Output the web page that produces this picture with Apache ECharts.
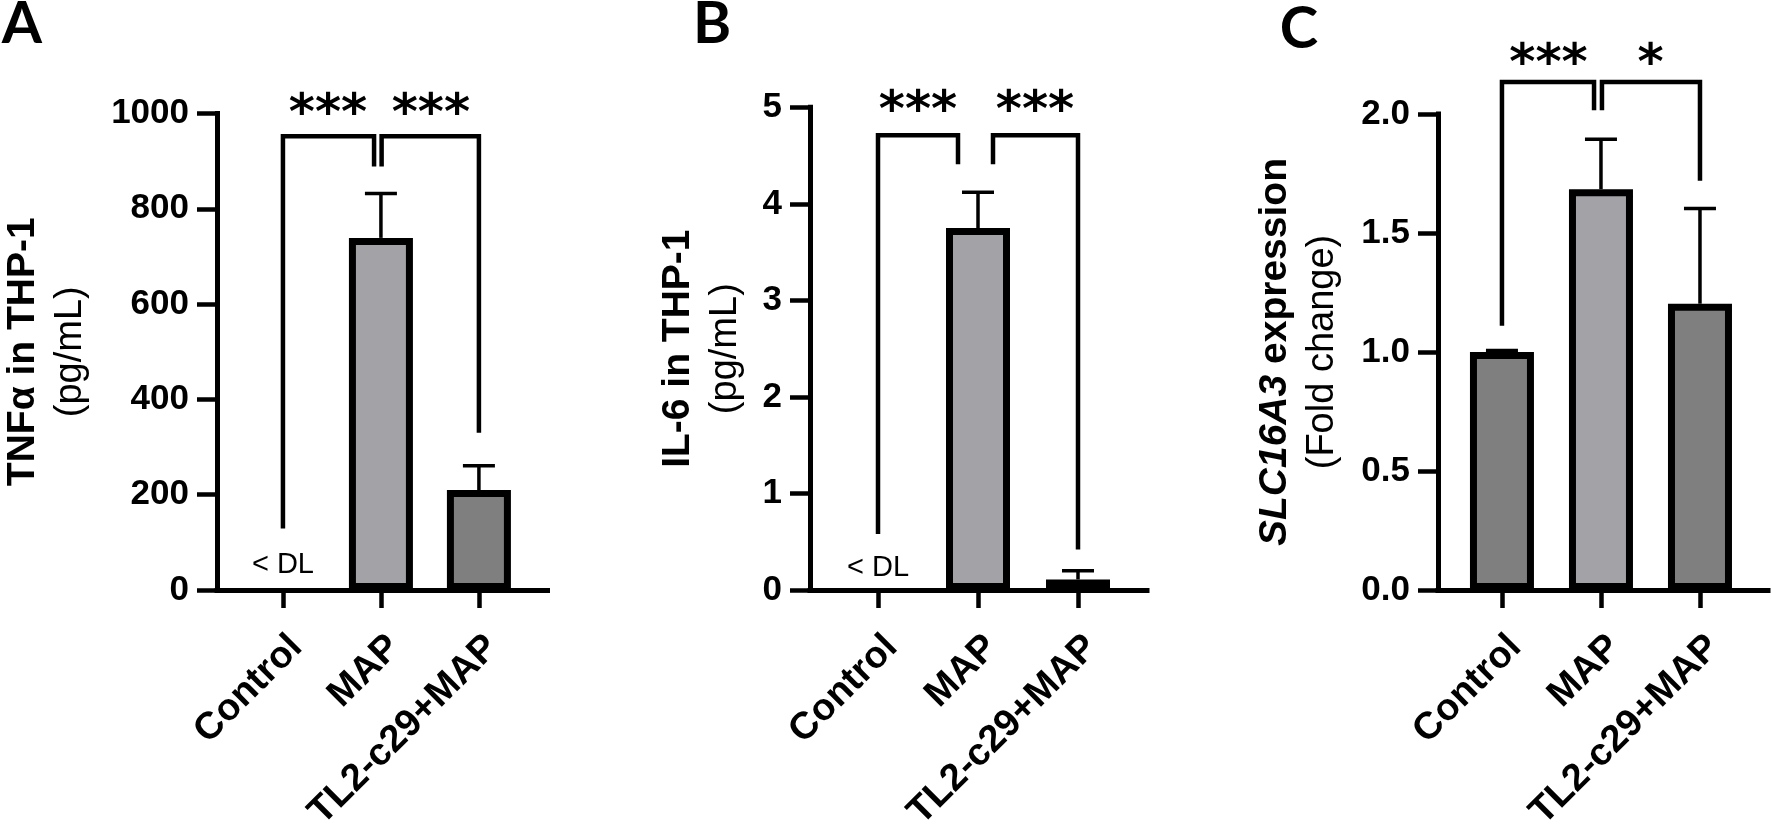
<!DOCTYPE html>
<html>
<head>
<meta charset="utf-8">
<script src="https://cdn.jsdelivr.net/npm/echarts@6/dist/echarts.min.js"></script>
<style>
html, body { margin: 0; background: #fff; }
#chart { width: 1772px; height: 834px; }
</style>
</head>
<body>
<div id="chart"></div>
<script>
// groups on every panel
var categories = ['Control', 'MAP', 'TL2-c29+MAP'];

// A - TNFα in THP-1 (pg/mL), control below detection limit
var tnfMean = [null, 739, 210];
var tnfSd = [null, 93, 51];
// B - IL-6 in THP-1 (pg/mL)
var il6Mean = [null, 3.75, 0.11];
var il6Sd = [null, 0.37, 0.09];
// C - SLC16A3 expression (fold change)
var slcMean = [1.0, 1.684, 1.203];
var slcSd = [0.006, 0.21, 0.40];

// y axis ranges: [min, max, step]
var tnfAxis = [0, 1000, 200];
var il6Axis = [0, 5, 1];
var slcAxis = [0, 2, 0.5];

// significance brackets: [x start, leg end at start, x end, leg end at end, top]
var tnfBrackets = [[0, 129, 0.93, 889, 952], [1.007, 889, 2, 330, 952]];
var il6Brackets = [[0, 0.58, 0.8, 4.41, 4.71], [1.15, 4.41, 2, 0.42, 4.71]];
var slcBrackets = [[0, 1.11, 0.93, 2.016, 2.134], [1.01, 2.016, 2, 1.72, 2.134]];

// stars over the brackets: [text, x, y]
var tnfStars = [['***', 0.46, 1019], ['***', 1.51, 1019]];
var il6Stars = [['***', 0.4, 5.06], ['***', 1.57, 5.06]];
var slcStars = [['***', 0.47, 2.25], ['*', 1.5, 2.25]];

// "< DL" note: [text, x, y]
var tnfNote = [['< DL', 0, 53]];
var il6Note = [['< DL', 0, 0.23]];

var barColors = ['#7f7f7f', '#a3a2a7', '#7f7f7f'];
var FONT = 'Arial, "Liberation Sans", sans-serif';

var myChart = echarts.init(document.getElementById('chart'));

// bars: black border drawn inside the bar, like the original plot
function barItem(params, api) {
    var v = api.value(1);
    if (v == null || isNaN(v)) return;
    var top = api.coord([api.value(0), v]);
    var base = api.coord([api.value(0), 0]);
    var bw = 7, half = 32;
    return {
        type: 'rect',
        shape: { x: top[0] - half + bw / 2, y: top[1] + bw / 2, width: half * 2 - bw, height: Math.max(base[1] - top[1] - bw, 0) },
        style: { fill: barColors[params.dataIndex], stroke: '#000', lineWidth: bw }
    };
}

// upper error bar only
function errItem(params, api) {
    var m = api.value(1), sd = api.value(2);
    if (m == null || isNaN(m)) return;
    var p0 = api.coord([api.value(0), m]);
    var p1 = api.coord([api.value(0), m + sd]);
    return {
        type: 'group',
        children: [
            { type: 'line', shape: { x1: p0[0], y1: p0[1], x2: p1[0], y2: p1[1] }, style: { stroke: '#000', lineWidth: 3.5 } },
            { type: 'line', shape: { x1: p1[0] - 16, y1: p1[1], x2: p1[0] + 16, y2: p1[1] }, style: { stroke: '#000', lineWidth: 3.5 } }
        ]
    };
}

function bracketItem(params, api) {
    var a = api.coord([api.value(0), api.value(1)]);
    var b = api.coord([api.value(0), api.value(4)]);
    var c = api.coord([api.value(2), api.value(4)]);
    var d = api.coord([api.value(2), api.value(3)]);
    return {
        type: 'polyline',
        shape: { points: [a, b, c, d] },
        style: { stroke: '#000', lineWidth: 4.5, fill: null }
    };
}

function textSeries(idx, list, font, size, weight, dy) {
    return {
        type: 'custom',
        xAxisIndex: idx, yAxisIndex: idx,
        clip: false,
        data: list.map(function (d) { return [d[1], d[2]]; }),
        renderItem: function (params, api) {
            var p = api.coord([api.value(0), api.value(1)]);
            return {
                type: 'text',
                x: p[0], y: p[1] + dy,
                style: {
                    text: list[params.dataIndex][0],
                    fontFamily: font, fontSize: size, fontWeight: weight,
                    fill: '#000', align: 'center', verticalAlign: 'middle'
                }
            };
        }
    };
}

function panelSeries(idx, mean, sd, brackets, stars, note) {
    var out = [
        {
            type: 'custom', xAxisIndex: idx, yAxisIndex: idx,
            data: mean.map(function (m, i) { return [i, m, sd[i]]; }),
            renderItem: errItem
        },
        {
            type: 'custom', xAxisIndex: idx, yAxisIndex: idx,
            data: mean.map(function (m, i) { return [i, m]; }),
            renderItem: barItem
        },
        {
            type: 'custom', xAxisIndex: idx, yAxisIndex: idx, clip: false,
            data: brackets,
            renderItem: bracketItem
        },
        textSeries(idx, stars, '"DejaVu Sans", sans-serif', 50, 'bold', 12)
    ];
    if (note) out.push(textSeries(idx, note, FONT, 29, 'normal', 0));
    return out;
}

var xRange = [[-0.673, 2.70], [-0.68, 2.69], [-0.646, 2.687]];

function xAxisOf(i) {
    return {
        gridIndex: i, type: 'value', min: xRange[i][0], max: xRange[i][1],
        splitLine: { show: false },
        axisLine: { onZero: false, lineStyle: { color: '#000', width: 5, cap: 'square' } },
        axisTick: { customValues: [0, 1, 2], length: 18, lineStyle: { color: '#000', width: 4.5 } },
        axisLabel: {
            customValues: [0, 1, 2],
            formatter: function (v) { return categories[Math.round(v)]; },
            rotate: 45, align: 'right', verticalAlign: 'top', margin: 38,
            color: '#000', fontFamily: FONT, fontSize: 38, fontWeight: 'bold'
        }
    };
}

function yAxisOf(i, range, name, gap, fmt) {
    return {
        gridIndex: i, type: 'value', min: range[0], max: range[1], interval: range[2],
        splitLine: { show: false },
        axisLine: { show: true, onZero: false, lineStyle: { color: '#000', width: 5, cap: 'square' } },
        axisTick: { show: true, length: 20, lineStyle: { color: '#000', width: 4.5 } },
        axisLabel: {
            margin: 28, color: '#000', fontFamily: FONT, fontSize: 35, fontWeight: 'bold',
            formatter: fmt
        },
        name: name, nameLocation: 'middle', nameRotate: 90, nameGap: gap,
        nameTextStyle: {
            color: '#000',
            rich: {
                t: { fontFamily: FONT, fontSize: 39, fontWeight: 'bold', lineHeight: 48, color: '#000' },
                i: { fontFamily: FONT, fontSize: 39, fontWeight: 'bold', fontStyle: 'italic', lineHeight: 48, color: '#000' },
                s: { fontFamily: FONT, fontSize: 38, lineHeight: 48, color: '#000' }
            }
        }
    };
}

function plain(v) { return String(v); }

function panelLetter(text, x, y) {
    return {
        type: 'text', x: x, y: y,
        style: { text: text, fontFamily: 'Lato, sans-serif', fontSize: 58, fontWeight: 'bold', fill: '#000', align: 'center', verticalAlign: 'middle' }
    };
}

option = {
    animation: false,
    backgroundColor: '#fff',
    grid: [
        { left: 217, top: 113.5, width: 330.5, height: 491.5 },
        { left: 810, top: 107.3, width: 337, height: 497.7 },
        { left: 1438, top: 114, width: 330, height: 492 }
    ],
    xAxis: [xAxisOf(0), xAxisOf(1), xAxisOf(2)],
    yAxis: [
        yAxisOf(0, tnfAxis, '{t|TNFα in THP-1}\n{s|(pg/mL)}', 122, plain),
        yAxisOf(1, il6Axis, '{t|IL-6 in THP-1}\n{s|(pg/mL)}', 60, plain),
        yAxisOf(2, slcAxis, '{i|SLC16A3}{t| expression}\n{s|(Fold change)}', 91,
            function (v) { return v.toFixed(1); })
    ],
    graphic: [
        panelLetter('A', 22, 24),
        panelLetter('B', 712, 24),
        panelLetter('C', 1299, 29)
    ],
    series: [].concat(
        panelSeries(0, tnfMean, tnfSd, tnfBrackets, tnfStars, tnfNote),
        panelSeries(1, il6Mean, il6Sd, il6Brackets, il6Stars, il6Note),
        panelSeries(2, slcMean, slcSd, slcBrackets, slcStars, null)
    )
};
myChart.setOption(option);
</script>
</body>
</html>
